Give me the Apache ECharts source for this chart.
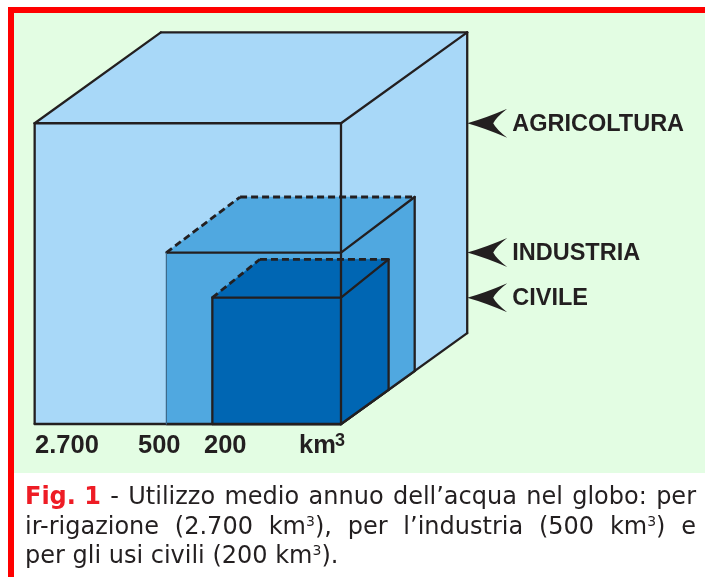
<!DOCTYPE html>
<html><head><meta charset="utf-8">
<script src="https://cdn.jsdelivr.net/npm/echarts@6/dist/echarts.min.js"></script>
<style>html,body{margin:0;padding:0;background:#fff}#c{width:705px;height:577px}</style>
</head><body><div id="c"></div>
<script>
// ---- data ----
const categories = ['AGRICOLTURA', 'INDUSTRIA', 'CIVILE'];
const volumes = [2700, 500, 200];            // km^3 per year
const volumeLabels = ['2.700', '500', '200'];
const unitLabel = 'km';
const captionLines = [
  ['*Fig. 1*', '-', 'Utilizzo', 'medio', 'annuo', 'dell’acqua', 'nel', 'globo:', 'per'],
  ['ir-rigazione', '(2.700', 'km^3),', 'per', 'l’industria', '(500', 'km^3)', 'e'],
  ['per', 'gli', 'usi', 'civili', '(200', 'km^3).']
];

// ---- style / layout ----
const faceColors = ['#a8d8f8', '#50a8e0', '#0066b3'];
const ink = '#231f20';
const depthXs = [0.412, 0.422, 0.37];   // perspective depth (fraction of edge), as drawn
const depthYs = [0.302, 0.324, 0.304];
const capFont = '"DejaVu Sans", Verdana, sans-serif';
const labFont = '"Liberation Sans", Arial, sans-serif';
const capSize = 24;

const chart = echarts.init(document.getElementById('c'), null, {renderer: 'canvas'});

function renderItem(params, api) {
  const i = params.dataIndex;
  const s = api.value(1);
  const bigS = Math.cbrt(Math.max.apply(null, volumes));
  const bigDx = depthXs[0] * bigS, bigDy = depthYs[0] * bigS;
  const P = (x, y) => api.coord([x, y]);
  const fbl = P(-s, 0), fbr = P(0, 0), ftr = P(0, s), ftl = P(-s, s);
  const dx = depthXs[i] * s, dy = depthYs[i] * s;
  const btl = P(-s + dx, s + dy), btr = P(dx, s + dy), bbr = P(dx, dx * bigDy / bigDx);
  const fill = faceColors[i];
  const base = i * 10;
  const ch = [];
  const poly = pts => ({type: 'polygon', shape: {points: pts}, style: {fill: fill, stroke: fill, lineWidth: 0.5}, z2: base});
  ch.push(poly([fbl, fbr, ftr, ftl]), poly([ftl, ftr, btr, btl]), poly([fbr, bbr, btr, ftr]));
  const line = (a, b, opt, z) => ({type: 'line', shape: {x1: a[0], y1: a[1], x2: b[0], y2: b[1]},
    style: Object.assign({stroke: ink, lineWidth: 2.3, lineCap: 'round'}, opt || {}), z2: z == null ? base + 1 : z});
  const inner = i > 0;
  const dash = {lineDash: [7, 4], lineCap: 'butt', lineWidth: 2.8};
  ch.push(line(ftl, ftr));
  ch.push(line(fbl, fbr));
  ch.push(line(ftl, fbl, inner ? (i === 1 ? {stroke: '#3d6a8c', lineWidth: 1.2} : {lineWidth: 2.3}) : {}));
  ch.push(line(ftl, btl, inner ? dash : {}));
  ch.push(line(btl, btr, inner ? dash : {}));
  ch.push(line(ftr, btr));
  ch.push(line(btr, bbr));
  ch.push(line(fbr, bbr));
  if (i === 0) ch.push(line(fbr, ftr, {}, 100));
  // arrow pointing at this cube's front top level
  const tipX = api.coord([bigDx, 0])[0];
  const tipY = ftr[1];
  const ap = `M${tipX},${tipY} Q${tipX + 18},${tipY - 5} ${tipX + 40},${tipY - 14.5} Q${tipX + 29},${tipY - 6} ${tipX + 26},${tipY} Q${tipX + 29},${tipY + 6} ${tipX + 40},${tipY + 14.5} Q${tipX + 18},${tipY + 5} ${tipX},${tipY} Z`;
  ch.push({type: 'path', shape: {pathData: ap}, style: {fill: ink, stroke: null}, z2: 110});
  ch.push({type: 'text', style: {text: categories[i], x: tipX + 45, y: tipY + 1, fill: ink,
    font: 'bold 23.5px ' + labFont, align: 'left', verticalAlign: 'middle'}, z2: 110});
  return {type: 'group', children: ch};
}

// ---- caption (justified) ----
const mctx = document.createElement('canvas').getContext('2d');
function fontOf(p) { return (p.bold ? 'bold ' : '') + p.size + 'px ' + capFont; }
function widthOf(p) { mctx.font = fontOf(p); return mctx.measureText(p.t).width; }
function parseToken(tok) {
  if (tok.startsWith('*')) return [{t: tok.replace(/\*/g, ''), bold: true, red: true, size: capSize}];
  const k = tok.indexOf('^');
  if (k < 0) return [{t: tok, size: capSize}];
  const parts = [];
  if (k > 0) parts.push({t: tok.slice(0, k), size: capSize});
  parts.push({t: tok.charAt(k + 1), size: 14, sup: true});
  if (tok.length > k + 2) parts.push({t: tok.slice(k + 2), size: capSize});
  return parts;
}
const capLeft = 25, capRight = 696, capBase = [506.5, 536, 565];
const graphics = [
  {type: 'rect', shape: {x: 14, y: 13, width: 691, height: 460}, style: {fill: '#e3fde3'}, z: -10},
  {type: 'rect', shape: {x: 8, y: 7, width: 697, height: 6}, style: {fill: '#ff0000'}, z: -9},
  {type: 'rect', shape: {x: 8, y: 7, width: 6, height: 570}, style: {fill: '#ff0000'}, z: -9}
];
captionLines.forEach((tokens, li) => {
  const toks = tokens.map(parseToken);
  toks.forEach(parts => parts.forEach(p => p.w = widthOf(p)));
  const tw = toks.map(parts => parts.reduce((a, p) => a + p.w, 0));
  const total = tw.reduce((a, b) => a + b, 0);
  const spaceW = widthOf({t: ' ', size: capSize});
  const gap = li < captionLines.length - 1 ? (capRight - capLeft - total) / (toks.length - 1) : spaceW;
  let x = capLeft;
  const bl = capBase[li];
  toks.forEach((parts) => {
    parts.forEach(p => {
      const yb = p.sup ? bl - 9 : bl;
      graphics.push({type: 'text', z: 20, style: {text: p.t, x: x, y: yb - 0.346 * p.size,
        font: fontOf(p), fill: p.red ? '#ee1c25' : ink, align: 'left', verticalAlign: 'middle'}});
      x += p.w;
    });
    x += gap;
  });
});
// bottom value labels
const bottomX = [35, 138, 204];
volumeLabels.forEach((t, i) => graphics.push({type: 'text', z: 20, style: {text: t, x: bottomX[i], y: 446,
  font: 'bold 25.5px ' + labFont, fill: ink, align: 'left', verticalAlign: 'middle'}}));
graphics.push({type: 'text', z: 20, style: {text: unitLabel, x: 299, y: 446, font: 'bold 25.5px ' + labFont, fill: ink, verticalAlign: 'middle'}});
graphics.push({type: 'text', z: 21, style: {text: '3', x: 335, y: 441.5, font: 'bold 18px ' + labFont, fill: ink, verticalAlign: 'middle'}});

chart.setOption({
  animation: false,
  backgroundColor: '#ffffff',
  grid: {left: 33, right: 12, top: 35.2, bottom: 109.8},
  xAxis: {type: 'value', min: -14, max: 16, show: false},
  yAxis: {type: 'value', min: -2, max: 18, show: false},
  graphic: {elements: graphics},
  series: [{
    type: 'custom',
    coordinateSystem: 'cartesian2d',
    renderItem: renderItem,
    encode: {x: 0, y: 1},
    data: volumes.map(v => [0, Math.cbrt(v)]),
    z: 2
  }]
});
</script></body></html>
